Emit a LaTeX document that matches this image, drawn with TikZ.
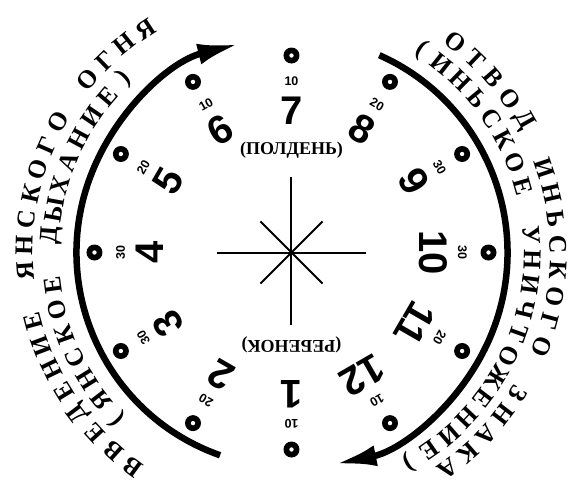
\documentclass[tikz,border=0pt]{standalone}
\usepackage{fontspec}
\setmainfont{Liberation Serif}
\newfontfamily\numfont{Liberation Sans}
\usetikzlibrary{arrows.meta}

\tikzset{
  arcletter/.style={font=\fontsize{25.5}{25.5}\selectfont\bfseries, inner sep=0pt},
  bignum/.style={font=\numfont\fontsize{40}{40}\selectfont\bfseries, inner sep=0pt},
  smallnum/.style={font=\numfont\fontsize{12.5}{12.5}\selectfont\bfseries, inner sep=0pt},
  ring/.style={circle, fill=black, inner sep=0pt, minimum size=16pt,
    path picture={\fill[white] (path picture bounding box.center) circle (2.2pt);}},
  flow/.style={line width=6.5pt, -{Latex[length=42pt,width=21pt]}},
  ray/.style={line width=2pt},
  note/.style={font=\fontsize{18}{18}\selectfont\bfseries, inner sep=0pt}
}

\begin{document}
\begin{tikzpicture}[x=1pt,y=1pt]
\useasboundingbox (-291.5,-230.5) rectangle (281.5,252.5);
\coordinate (c) at (0,0);
% star in the middle
\draw[ray] (-74,0) -- (74,0);
\draw[ray] (0,-72) -- (0,76);
\draw[ray] (135:44) -- (-45:44);
\draw[ray] (45:44) -- (-135:44);
% dots, minutes and hours
\foreach \n/\a/\m in {7/90/10,6/120/10,5/150/20,4/180/30,3/210/30,2/240/20,
                      1/270/10,12/300/10,11/330/20,10/0/30,9/30/30,8/60/20}{
  \node[ring] (dot\n) at (\a:197) {};
  \node[smallnum, rotate=\a-90] (min\n) at (\a:171) {\m};
  \node[bignum, rotate=\a-90] (hour\n) at (\a:142) {\n};
}
\node[note] (noon) at (0,102) {(ПОЛДЕНЬ)};
\node[note, rotate=180] (child) at (0,-92) {(РЕБЕНОК)};
% the two arcs
\coordinate (inbeg) at (250.6:215);
\coordinate (outbeg) at (66:216);
\draw[flow] (inbeg) arc[start angle=250.6, end angle=104, radius=215];
\draw[flow] (outbeg) arc[start angle=66, end angle=-78.5, radius=216];
% left texts
\foreach \k/\w in {0/{В,В,Е,Д,Е,Н,И,Е},9/{Я,Н,С,К,О,Г,О},17/{О,Г,Н,Я}}
  \foreach \ch [count=\j] in \w {
    \pgfmathsetmacro\ang{233.6-(\k+\j-1)*5.52}
    \node[arcletter, rotate=\ang-90] (lo\k-\j) at (\ang:267) {\ch};
  }
\foreach \k/\w in {0/{{(},Я,Н,С,К,О,Е},8/{Д,Ы,Х,А,Н,И,Е,{)}}}
  \foreach \ch [count=\j] in \w {
    \pgfmathsetmacro\ang{223.8-(\k+\j-1)*6}
    \node[arcletter, rotate=\ang-90] (li\k-\j) at (\ang:241) {\ch};
  }
% right texts
\foreach \k/\w in {0/{О,Т,В,О,Д},6/{И,Н,Ь,С,К,О,Г,О},15/{З,Н,А,К,А}}
  \foreach \ch [count=\j] in \w {
    \pgfmathsetmacro\ang{52-(\k+\j-1)*5.59}
    \node[arcletter, rotate=\ang-90] (ro\k-\j) at (\ang:267) {\ch};
  }
\foreach \k/\w in {0/{{(},И,Н,Ь,С,К,О,Е},9/{У,Н,И,Ч,Т,О,Ж,Е,Н,И,Е,{)}}}
  \foreach \ch [count=\j] in \w {
    \pgfmathsetmacro\ang{57.4-(\k+\j-1)*5.92}
    \node[arcletter, rotate=\ang-90] (ri\k-\j) at (\ang:241) {\ch};
  }
\end{tikzpicture}
\end{document}
